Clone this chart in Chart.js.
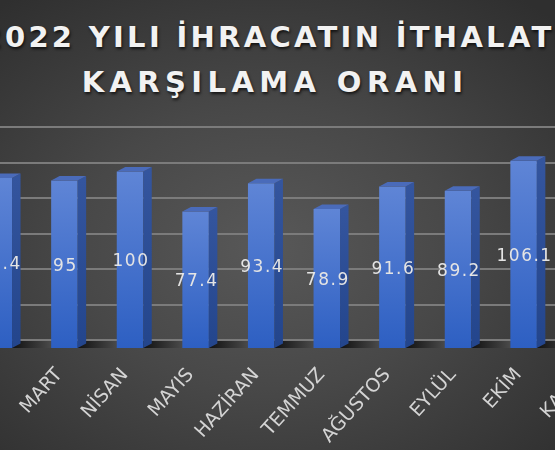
<!DOCTYPE html>
<html lang="tr">
<head>
  <meta charset="UTF-8" />
  <title>2022 Yılı İhracatın İthalatı Karşılama Oranı</title>
  <script src="https://cdn.jsdelivr.net/npm/chart.js"></script>
  <style>
    html, body { margin: 0; padding: 0; }
    body {
      width: 555px; height: 450px; overflow: hidden; position: relative;
      background: radial-gradient(ellipse 75% 70% at 48% 55%, #585858 0%, #484848 45%, #383838 80%, #2f2f2f 100%);
    }
    .title {
      position: absolute; left: -125px; width: 800px; margin: 0;
      text-align: center; white-space: nowrap;
      color: #f2f2f2; font: bold 29px/40px "DejaVu Sans", sans-serif;
      text-shadow: 1px 2px 3px rgba(0, 0, 0, 0.7);
    }
    #line1 { top: 17px; letter-spacing: 3.3px; }
    #line2 { top: 62px; letter-spacing: 5.4px; }
    #wrap { position: absolute; left: -40px; top: 0; width: 680px; height: 450px; }
  </style>
</head>
<body>
<div class="title" id="line1">2022 YILI İHRACATIN İTHALATI</div>
<div class="title" id="line2">KARŞILAMA ORANI</div>
<div id="wrap"><canvas id="chart"></canvas></div>

<script>
  // data (KASIM bar is outside the visible crop)
  const months = ['ŞUBAT', 'MART', 'NİSAN', 'MAYIS', 'HAZİRAN', 'TEMMUZ', 'AĞUSTOS', 'EYLÜL', 'EKİM', 'KASIM'];
  const ratios = [96.4, 95, 100, 77.4, 93.4, 78.9, 91.6, 89.2, 106.1, null];
  const yTicks = [0, 20, 40, 60, 80, 100, 120];

  const DX = 8.5, DY = 4.5, SHIFT = 9;

  // fake 3D: bars drawn a bit in front of the back wall, with side + top faces
  const bars3d = {
    id: 'bars3d',
    beforeDatasetsDraw(chart) {
      const ctx = chart.ctx;
      const els = chart.getDatasetMeta(0).data;
      ctx.save();
      ctx.translate(0, SHIFT);
      // floor shadow between bars
      els.forEach((el, i) => {
        const right = el.x + el.width / 2;
        const next = els[i + 1] ? els[i + 1].x - els[i + 1].width / 2 : chart.chartArea.right;
        const g = ctx.createLinearGradient(right, 0, next, 0);
        g.addColorStop(0, '#111');
        g.addColorStop(1, '#4a4a4a');
        ctx.fillStyle = g;
        ctx.fillRect(right, el.base - 7, next - right, 7);
      });
    },
    afterDatasetsDraw(chart) {
      const ctx = chart.ctx;
      const els = chart.getDatasetMeta(0).data;
      els.forEach((el, i) => {
        if (ratios[i] == null) return;
        const left = el.x - el.width / 2, right = el.x + el.width / 2;
        const side = ctx.createLinearGradient(0, el.y, 0, el.base);
        side.addColorStop(0, '#34559e');
        side.addColorStop(1, '#23458c');
        ctx.fillStyle = side;
        ctx.beginPath();
        ctx.moveTo(right, el.base);
        ctx.lineTo(right, el.y);
        ctx.lineTo(right + DX, el.y - DY);
        ctx.lineTo(right + DX, el.base - DY);
        ctx.closePath();
        ctx.fill();
        ctx.fillStyle = '#4a6bba';
        ctx.beginPath();
        ctx.moveTo(left, el.y);
        ctx.lineTo(right, el.y);
        ctx.lineTo(right + DX, el.y - DY);
        ctx.lineTo(left + DX, el.y - DY);
        ctx.closePath();
        ctx.fill();
      });
      // value labels
      ctx.font = '17px "DejaVu Sans"';
      ctx.letterSpacing = '1.5px';
      ctx.fillStyle = '#e4e4e4';
      ctx.textAlign = 'center';
      ctx.textBaseline = 'middle';
      els.forEach((el, i) => {
        if (ratios[i] == null) return;
        ctx.fillText(String(ratios[i]), el.x + 1, (el.y + el.base) / 2 + 2);
      });
      ctx.restore();
    }
  };

  new Chart(document.getElementById('chart'), {
    type: 'bar',
    data: {
      labels: months,
      datasets: [{
        data: ratios,
        clip: false,
        categoryPercentage: 1,
        barPercentage: 0.404,
        backgroundColor(c) {
          const chart = c.chart;
          if (!chart.chartArea || c.raw == null) return '#3f6fcb';
          const y = chart.scales.y;
          const g = chart.ctx.createLinearGradient(0, y.getPixelForValue(c.raw), 0, y.getPixelForValue(0));
          g.addColorStop(0, '#5f85d6');
          g.addColorStop(1, '#2d5fc2');
          return g;
        }
      }]
    },
    options: {
      responsive: true,
      maintainAspectRatio: false,
      animation: false,
      layout: { padding: { top: 127, left: 6, right: 18, bottom: 0 } },
      plugins: { legend: { display: false }, tooltip: { enabled: false } },
      scales: {
        x: {
          grid: { display: false, drawTicks: false },
          border: { display: false },
          ticks: {
            color: '#d4d4d4',
            font: { family: '"DejaVu Sans"', size: 19 },
            minRotation: 48, maxRotation: 48,
            autoSkip: false,
            labelOffset: -5,
            padding: 24
          },
          afterFit(scale) {
            scale.height = 110;
            scale.paddingLeft = 0;
            scale.paddingRight = 0;
          }
        },
        y: {
          min: yTicks[0],
          max: yTicks[yTicks.length - 1],
          ticks: { display: false, stepSize: yTicks[1] - yTicks[0] },
          grid: { color: '#7b7b7b', lineWidth: 2, drawTicks: false },
          border: { display: false },
          afterFit(scale) { scale.width = 0; }
        }
      }
    },
    plugins: [bars3d]
  });
</script>
</body>
</html>
